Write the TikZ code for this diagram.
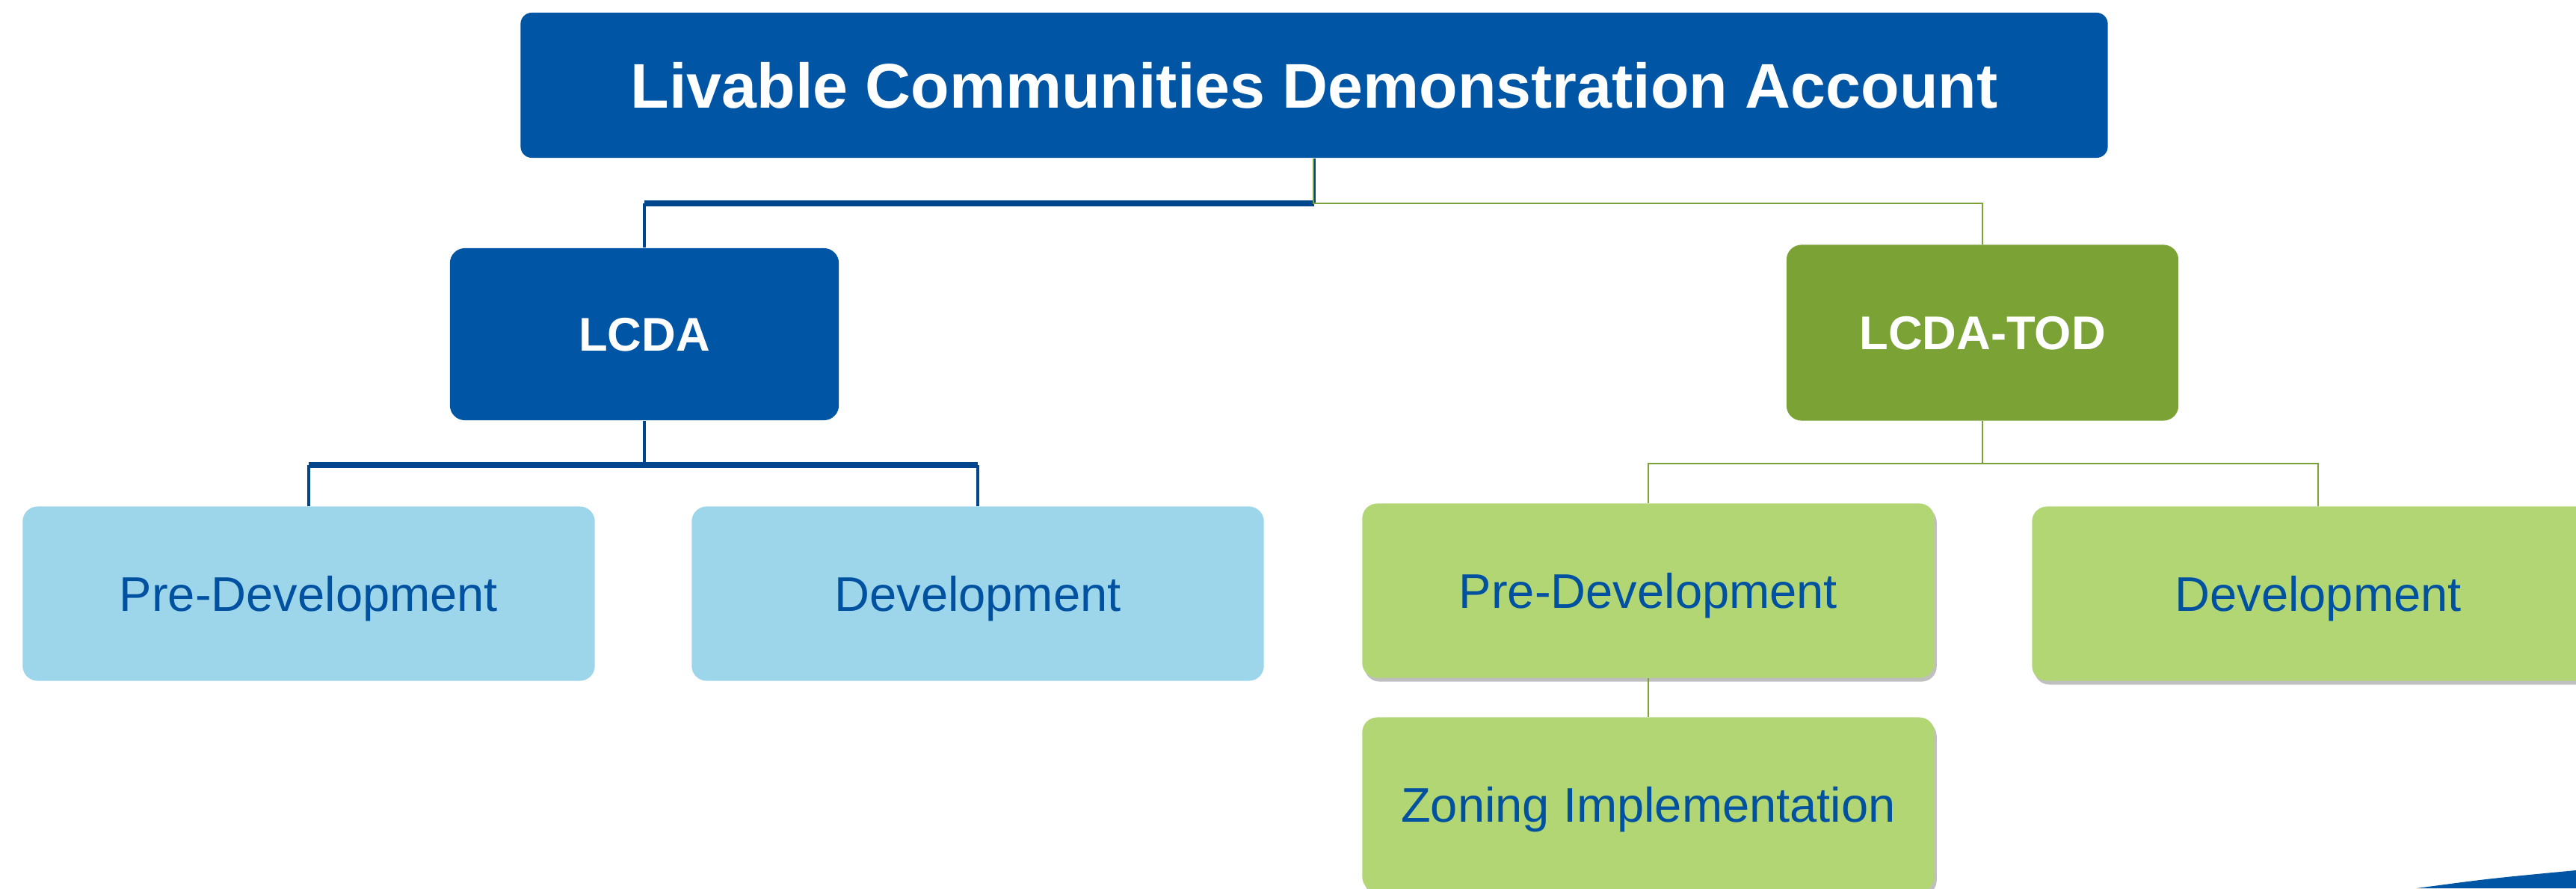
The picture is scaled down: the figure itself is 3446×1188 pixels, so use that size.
\documentclass[tikz,border=0pt]{standalone}
\usepackage{fontspec}
\setmainfont{Liberation Sans}
\usetikzlibrary{shadows}
\definecolor{lcdablue}{RGB}{0,85,165}
\definecolor{linkblue}{RGB}{0,70,140}
\definecolor{paleblue}{RGB}{157,213,234}
\definecolor{todgreen}{RGB}{122,162,52}
\definecolor{palegreen}{RGB}{179,214,117}
\definecolor{textblue}{RGB}{0,82,160}
\begin{document}
\begin{tikzpicture}[x=0.01cm,y=-0.01cm,
	box/.style={rounded corners=0.2cm, inner sep=0pt, align=center, text depth=0pt},
	headbox/.style={box, fill=lcdablue, text=white, font=\bfseries\fontsize{18}{22}\selectfont, minimum width=5.2cm, minimum height=2.3cm},
	leafbox/.style={box, text=textblue, font=\fontsize{18.5}{22}\selectfont, minimum width=7.65cm, minimum height=2.33cm},
	greenshadow/.style={drop shadow={shadow xshift=0.03cm, shadow yshift=-0.05cm, fill=black, opacity=0.25}},
	blueline/.style={linkblue, line width=1pt},
	bluebar/.style={linkblue, line width=2pt},
	greenline/.style={todgreen, line width=0.8pt}]
	\useasboundingbox (0,0) rectangle (3446,1188);
	\clip (0,0) rectangle (3446,1188);

	\node[box, fill=lcdablue, text=white, font=\bfseries\fontsize{24}{28}\selectfont, minimum width=21.22cm, minimum height=1.94cm, rounded corners=0.15cm] (title) at (1758,114) {Livable Communities Demonstration Account};
	\node[headbox] (lcda) at (862,447) {LCDA};
	\node[headbox, fill=todgreen, minimum width=5.24cm, minimum height=2.35cm] (tod) at (2652,445) {LCDA-TOD};

	\node[leafbox, fill=paleblue] (lpre) at (413,794) {Pre-Development};
	\node[leafbox, fill=paleblue] (ldev) at (1308,794) {Development};
	\node[leafbox, fill=palegreen, greenshadow] (tpre) at (2205,790) {Pre-Development};
	\node[leafbox, fill=palegreen, greenshadow] (tdev) at (3101,794) {Development};
	\node[leafbox, fill=palegreen, greenshadow] (zoning) at (2205,1076) {Zoning Implementation};

	\coordinate (jtop) at (1757,272);
	\coordinate (jl) at (861,622);
	\coordinate (jr) at (2652,620);

	% top level
	\draw[blueline] (title.south) -- (title.south |- jtop);
	\draw[bluebar] (title.south |- jtop) -- (jtop -| lcda.north);
	\draw[blueline] (jtop -| lcda.north) -- (lcda.north);
	\draw[greenline] ([xshift=-0.3pt]title.south) -- ([xshift=-0.3pt]title.south |- jtop) -| (tod.north);

	% LCDA branch
	\draw[blueline] (lcda.south) -- (lcda.south |- jl);
	\draw[bluebar] (lpre.north |- jl) -- (ldev.north |- jl);
	\foreach \n in {lpre,ldev}
	\draw[blueline] (\n.north |- jl) -- (\n.north);

	% LCDA-TOD branch
	\draw[greenline] (tod.south) -- (jr);
	\draw[greenline] (tpre.north) |- (jr) -| (tdev.north);
	\draw[greenline] (tpre.south) -- (zoning.north);

	\fill[lcdablue] (3233,1188) .. controls (3330,1175) .. (3446,1164) -- (3446,1188) -- cycle;
\end{tikzpicture}
\end{document}
